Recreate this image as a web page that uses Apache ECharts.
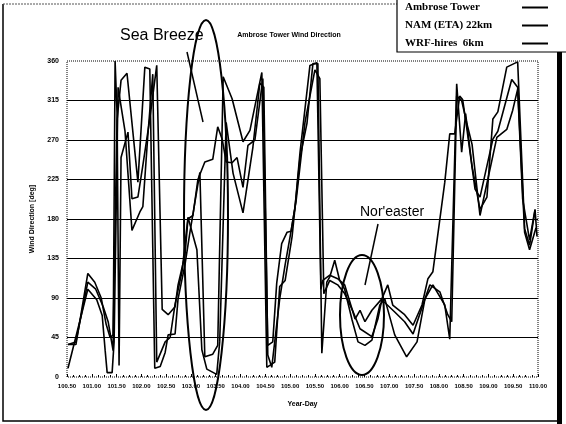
<!DOCTYPE html>
<html>
<head>
<meta charset="utf-8">
<script src="https://cdn.jsdelivr.net/npm/echarts@6/dist/echarts.min.js"></script>
<style>
  html, body { margin: 0; padding: 0; background: #fff; }
  #chart { width: 566px; height: 424px; }
</style>
</head>
<body>
<div id="chart"></div>
<script>
// Ambrose Tower (observed)
const ambroseDay = [100.52,100.68,100.92,101.06,101.19,101.29,101.37,101.43,101.51,101.59,101.71,101.93,102.07,102.17,102.27,102.38,102.48,102.54,102.68,102.74,102.88,102.98,103.18,103.28,103.44,103.54,103.65,103.83,104.05,104.19,104.43,104.53,104.69,104.79,104.90,105.04,105.20,105.34,105.46,105.56,105.64,105.74,105.80,105.90,106.00,106.10,106.25,106.37,106.51,106.65,106.81,106.91,107.11,107.35,107.56,107.72,107.88,108.12,108.22,108.36,108.46,108.54,108.67,108.83,108.97,109.09,109.19,109.37,109.59,109.73,109.83,109.94];
const ambroseDir = [37,37,118,108,90,60,45,48,293,338,346,222,353,351,10,12,28,48,49,89,128,165,233,23,26,36,342,317,268,281,347,11,17,103,110,160,250,289,357,357,27,108,114,133,110,100,65,40,36,42,82,89,48,23,40,89,105,82,43,334,256,300,240,191,205,294,302,353,359,169,150,190];

// NAM (ETA) 22km
const namDay = [100.52,100.68,100.92,101.08,101.23,101.33,101.43,101.47,101.51,101.55,101.59,101.73,101.81,101.93,102.03,102.17,102.31,102.42,102.54,102.68,102.74,102.88,102.94,103.04,103.14,103.28,103.44,103.54,103.63,103.71,103.83,103.93,104.05,104.15,104.29,104.45,104.55,104.65,104.73,104.83,104.94,105.02,105.10,105.20,105.40,105.54,105.62,105.66,105.80,105.96,106.10,106.31,106.41,106.51,106.65,106.85,106.97,107.07,107.31,107.48,107.66,107.78,107.88,108.12,108.22,108.32,108.42,108.48,108.56,108.73,108.83,109.09,109.19,109.47,109.59,109.73,109.83,109.96];
const namDir = [37,40,108,100,80,63,30,360,300,13,250,279,203,205,241,294,355,77,71,80,105,139,180,184,225,245,248,285,271,245,244,250,216,264,270,340,36,40,107,152,165,166,194,256,355,358,100,110,116,112,105,66,76,63,76,89,105,82,71,59,82,112,120,222,277,277,320,316,285,214,205,271,280,339,330,165,145,170];

// WRF-hires 6km
const wrfDay = [100.52,100.92,101.10,101.21,101.27,101.31,101.41,101.45,101.53,101.67,101.81,101.97,102.03,102.13,102.23,102.31,102.48,102.58,102.68,102.82,102.94,103.12,103.22,103.32,103.52,103.58,103.71,103.85,104.05,104.25,104.39,104.47,104.55,104.63,104.79,104.90,105.00,105.12,105.30,105.50,105.60,105.68,105.80,105.96,106.10,106.25,106.41,106.65,106.77,106.85,107.11,107.31,107.48,107.72,107.82,108.02,108.18,108.26,108.36,108.46,108.56,108.67,108.83,109.17,109.37,109.49,109.59,109.69,109.83,109.94,109.98];
const wrfDir = [10,100,88,70,30,5,5,40,330,280,167,188,194,275,345,17,40,45,83,120,182,145,31,9,3,40,290,232,187,262,335,330,25,11,89,128,160,200,290,350,340,95,110,105,95,77,55,46,66,88,74,63,49,89,105,97,71,63,320,315,290,265,184,273,282,304,328,203,156,191,160];

const seriesNames = ['Ambrose Tower', 'NAM (ETA) 22km', 'WRF-hires  6km'];

function zip(xs, ys) {
    return xs.map((x, i) => [x, ys[i]]);
}

const chart = echarts.init(document.getElementById('chart'));

const lineSeries = (name, data) => ({
    name: name,
    type: 'line',
    data: data,
    showSymbol: false,
    animation: false,
    lineStyle: { color: '#000', width: 1.6 },
    itemStyle: { color: '#000' }
});

const bold = { fontFamily: 'Liberation Sans', fontWeight: 'bold', color: '#000' };

chart.setOption({
    animation: false,
    title: {
        text: 'Ambrose Tower Wind Direction',
        left: 284, top: 27, textAlign: 'center',
        textStyle: Object.assign({ fontSize: 7 }, bold)
    },
    legend: {
        orient: 'vertical', right: -10, top: -4, align: 'right',
        icon: 'rect', itemWidth: 26, itemHeight: 2, itemGap: 7,
        padding: [6, 28, 3, 8],
        borderColor: '#000', borderWidth: 1.2, backgroundColor: '#fff',
        formatter: '{t|{name}}',
        textStyle: {
            rich: {
                t: { fontFamily: 'Liberation Serif', fontSize: 11, fontWeight: 'bold', color: '#000', width: 112, align: 'left' }
            }
        },
        data: seriesNames
    },
    grid: { left: 67, right: 28, top: 61, bottom: 47 },
    xAxis: {
        type: 'value', min: 100.5, max: 110, interval: 0.5,
        name: 'Year-Day', nameLocation: 'middle', nameGap: 24,
        nameTextStyle: Object.assign({ fontSize: 7 }, bold),
        axisLine: { show: false },
        axisTick: { show: true, inside: true, length: 3, lineStyle: { color: '#000' } },
        minorTick: { show: true, splitNumber: 4, length: 2, lineStyle: { color: '#000' } },
        axisLabel: Object.assign({ fontSize: 6, margin: 6, formatter: v => v.toFixed(2) }, bold),
        splitLine: { show: false }
    },
    yAxis: {
        type: 'value', min: 0, max: 360, interval: 45,
        name: 'Wind Direction [deg]', nameLocation: 'middle', nameGap: 31, nameRotate: 90,
        nameTextStyle: Object.assign({ fontSize: 7 }, bold),
        axisLine: { show: false },
        axisTick: { show: false },
        axisLabel: Object.assign({ fontSize: 7, margin: 8 }, bold),
        splitLine: {
            show: true,
            lineStyle: {
                color: ['rgba(0,0,0,0)', '#000', '#000', '#000', '#000', '#000', '#000', '#000', 'rgba(0,0,0,0)'],
                width: 1
            }
        }
    },
    graphic: [
        // dotted plot frame
        { type: 'rect', shape: { x: 67, y: 61, width: 471, height: 316 },
          style: { fill: 'none', stroke: '#000', lineWidth: 1, lineDash: [1, 1] }, z: 1 },
        // outer figure border
        { type: 'polyline', shape: { points: [[3, 4], [3, 421], [558, 421]] },
          style: { fill: 'none', stroke: '#000', lineWidth: 1.5 }, z: 0 },
        { type: 'line', shape: { x1: 3, y1: 4, x2: 420, y2: 4 },
          style: { stroke: '#555', lineWidth: 1, lineDash: [2, 1] }, z: 0 },
        { type: 'rect', shape: { x: 557, y: 52, width: 5, height: 372 },
          style: { fill: '#000' }, z: 0 },
        // Sea Breeze annotation
        { type: 'text', left: 120, top: 28, z: 10,
          style: { text: 'Sea Breeze', fontFamily: 'Liberation Sans', fontSize: 16, fill: '#000' } },
        { type: 'line', shape: { x1: 187, y1: 52, x2: 203, y2: 122 },
          style: { stroke: '#000', lineWidth: 1.5 }, z: 10 },
        { type: 'ellipse', shape: { cx: 206, cy: 215, rx: 22, ry: 195 },
          style: { fill: 'none', stroke: '#000', lineWidth: 2 }, z: 10 },
        // Nor'easter annotation
        { type: 'text', left: 360, top: 205, z: 10,
          style: { text: "Nor'easter", fontFamily: 'Liberation Sans', fontSize: 14, fill: '#000' } },
        { type: 'line', shape: { x1: 378, y1: 224, x2: 365, y2: 285 },
          style: { stroke: '#000', lineWidth: 1.5 }, z: 10 },
        { type: 'ellipse', shape: { cx: 362, cy: 315, rx: 22, ry: 60 },
          style: { fill: 'none', stroke: '#000', lineWidth: 2 }, z: 10 }
    ],
    series: [
        lineSeries(seriesNames[0], zip(ambroseDay, ambroseDir)),
        lineSeries(seriesNames[1], zip(namDay, namDir)),
        lineSeries(seriesNames[2], zip(wrfDay, wrfDir))
    ]
});
</script>
</body>
</html>
